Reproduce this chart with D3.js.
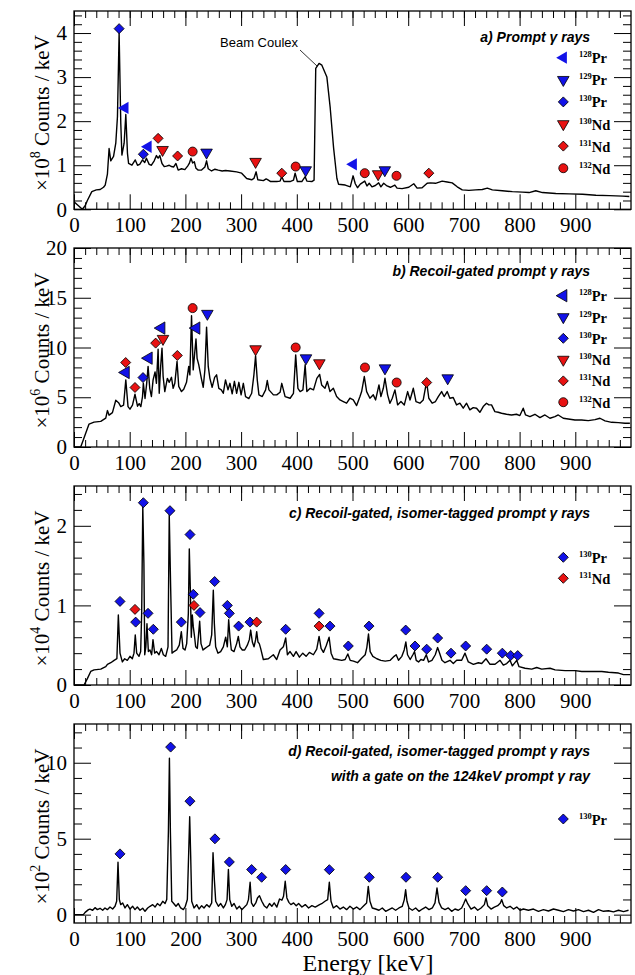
<!DOCTYPE html>
<html>
<head>
<meta charset="utf-8">
<script src="https://cdn.jsdelivr.net/npm/d3@7"></script>
<style>
  body { margin: 0; background: #fff; }
  svg { display: block; }
</style>
</head>
<body>
<script>
// ---- data ----
var energyTicks = [0, 100, 200, 300, 400, 500, 600, 700, 800, 900];

// a) prompt gamma rays, x10^8 counts/keV
var specA = [[0,0.17],[8,0.08],[15,0.0],[20,0.08],[24,0.2],[32,0.4],[40,0.44],[47,0.45],[53,0.5],[56,0.55],[60,0.8],[63,1.38],[66,1.1],[71,1.2],[75,1.5],[78,2.1],[81,4.0],[84,1.95],[86,1.23],[90,1.5],[93,2.15],[96,1.27],[98,1.04],[104,1.0],[110,1.12],[114,1.0],[118,1.02],[123,1.12],[127,1.06],[130,1.16],[135,1.02],[139,1.0],[144,1.1],[148,1.22],[151,1.16],[154,1.22],[158,1.04],[162,0.97],[166,0.98],[171,1.0],[175,0.97],[179,0.96],[183,1.04],[187,0.89],[193,0.92],[199,0.9],[204,0.98],[207,1.04],[210,1.16],[213,1.05],[216,1.08],[219,0.93],[223,0.89],[229,0.89],[235,0.96],[238,1.1],[241,0.92],[247,0.87],[253,0.91],[259,0.89],[266,0.87],[272,0.88],[280,0.87],[292,0.85],[301,0.82],[310,0.7],[319,0.67],[323,0.7],[327,0.85],[330,0.67],[340,0.65],[345,0.69],[349,0.66],[353,0.63],[364,0.63],[370,0.64],[373,0.74],[377,0.63],[388,0.63],[394,0.66],[397,0.82],[401,0.63],[409,0.63],[415,0.74],[418,0.64],[427,0.63],[431,0.66],[434,3.2],[440,3.31],[445,3.27],[454,3.0],[460,2.3],[466,1.4],[472,0.7],[475,0.57],[487,0.55],[496,0.51],[501,0.76],[505,0.58],[509,0.49],[514,0.57],[522,0.64],[526,0.53],[530,0.59],[535,0.51],[541,0.54],[547,0.6],[551,0.51],[556,0.59],[562,0.53],[568,0.5],[576,0.55],[580,0.48],[589,0.47],[601,0.5],[610,0.58],[616,0.48],[625,0.49],[634,0.59],[640,0.6],[649,0.59],[661,0.64],[670,0.62],[679,0.6],[688,0.51],[697,0.44],[709,0.43],[721,0.44],[733,0.45],[742,0.48],[751,0.44],[769,0.42],[787,0.4],[805,0.39],[817,0.38],[829,0.42],[841,0.38],[865,0.36],[889,0.35],[913,0.34],[937,0.32],[961,0.31],[985,0.3],[997,0.29]];

// b) recoil-gated prompt gamma rays, x10^6 counts/keV
var specB = [[0,0],[12,0],[16,0.6],[21,1.38],[27,2.3],[36,2.5],[48,2.58],[57,2.9],[60,3.66],[63,3.2],[69,3.45],[75,4.7],[80,4.45],[84,4.06],[89,4.2],[93,6.75],[97,4.06],[100.5,3.8],[105,4.2],[109.5,5.3],[114,4.1],[117,4.36],[120,4.06],[123,5.07],[124.5,6.4],[127.5,4.87],[130.5,6.4],[133,8.1],[136,5.9],[139,5.07],[142,6.75],[145.5,7.55],[148,6.4],[151,9.83],[153,5.4],[155.6,8.1],[158,9.94],[160,7.1],[163,5.57],[167.6,6.9],[171,6.5],[175,7.0],[178,5.9],[181,6.4],[185,8.6],[188,6.1],[193,5.57],[197,5.8],[202,6.5],[206,8.1],[208,7.25],[211,13.2],[214,7.75],[216.6,9.4],[219,10.85],[221,8.9],[224,8.25],[228.6,6.9],[232,6.0],[235,7.75],[238,12.05],[241,8.1],[244,6.9],[248,6.0],[252.5,7.0],[256,7.25],[260,5.9],[264.5,5.74],[268,5.4],[272,6.75],[276.5,5.74],[280,6.4],[284,5.34],[288,6.6],[292,5.4],[296,6.5],[300,5.24],[304,6.4],[308,5.07],[314,4.87],[319,5.4],[323,7.25],[326,9.16],[329,6.75],[332,5.24],[338,5.07],[344,5.74],[347,6.68],[350,5.74],[358,5.24],[364,5.24],[370,5.5],[373,6.4],[379,5.07],[388,4.9],[394,5.4],[398,9.26],[402,5.9],[406,5.57],[411,5.74],[415,8.26],[418,5.57],[424,5.9],[430,5.74],[436,6.9],[441,7.3],[444.6,6.24],[450.6,5.9],[454.8,6.58],[459.6,5.57],[465.6,5.9],[471.5,5.07],[477.5,4.73],[483.5,4.57],[489.4,4.4],[495.4,4.9],[501.4,4.73],[507.4,4.16],[513.4,5.07],[516.4,5.57],[521.2,7.08],[525.4,5.57],[531.3,4.9],[537.3,5.24],[541.5,4.73],[547.5,6.24],[551,5.07],[555.3,5.9],[558.3,6.91],[563,5.24],[567.2,4.4],[571.4,4.9],[576.2,5.74],[581,4.23],[587,4.57],[593,4.23],[599,5.57],[603.3,4.73],[609.2,5.9],[614,4.57],[621,4.4],[627,4.73],[633,6.58],[637,4.9],[643,4.4],[649,4.57],[654,5.07],[660,5.57],[664.5,5.07],[670,5.57],[674.8,4.9],[680.8,4.97],[686.8,4.23],[692.8,4.4],[698.8,3.9],[704.8,4.4],[710.7,3.73],[716.7,3.96],[722.7,3.9],[728.7,3.49],[734.7,4.06],[740.6,4.4],[744.8,4.23],[749.6,4.23],[755.6,3.56],[761.6,3.49],[767.6,3.39],[776.5,3.29],[785.5,3.22],[794.5,3.29],[800.5,3.16],[806.5,3.9],[810.7,3.22],[818.5,3.05],[827.5,3.29],[836.5,2.95],[845.5,3.22],[854.5,2.89],[863.4,3.05],[869.4,3.22],[878.4,2.89],[887.4,2.82],[899.4,2.72],[911.4,2.72],[923.3,2.65],[935.3,2.75],[944.3,2.89],[953.3,2.62],[965.3,2.48],[977.3,2.45],[989.2,2.38],[998,2.38]];

// c) recoil-gated, isomer-tagged, x10^4 counts/keV
var specC = [[0,0],[18,0],[24,0.08],[30,0.17],[36,0.19],[48,0.2],[57,0.23],[60,0.26],[66,0.28],[72,0.31],[77,0.33],[79.6,0.88],[82.6,0.4],[86.8,0.29],[91,0.33],[95.7,0.31],[100.5,0.36],[104.7,0.33],[107.7,0.4],[110,0.63],[112.5,0.4],[116.7,0.36],[119.7,0.42],[121.5,0.9],[123.5,2.24],[125.5,1.53],[127,0.38],[129,0.48],[131,0.77],[133.5,0.42],[136.4,0.44],[139.4,0.38],[141.8,0.57],[144.8,0.4],[148.4,0.42],[152.6,0.38],[156.8,0.46],[160.4,0.38],[164.6,0.36],[168.8,0.48],[171,2.14],[173.5,1.23],[176,0.4],[179.5,0.42],[184.3,0.44],[189,0.5],[192.7,0.67],[195.7,0.46],[199.3,0.44],[202.3,0.52],[205.3,0.9],[207,1.71],[208.9,1.19],[210.6,0.6],[212.4,0.88],[214.2,0.73],[216.6,0.6],[218.4,0.48],[221.4,0.46],[223.2,0.6],[225.6,0.8],[228,0.52],[231.6,0.44],[235.2,0.46],[239.4,0.48],[243.6,0.5],[247.2,0.63],[250.1,1.19],[252,0.77],[254.3,0.48],[258.5,0.4],[263.3,0.42],[268.1,0.48],[272.3,0.6],[275.3,0.48],[277.7,0.82],[280,0.6],[282.5,0.44],[287.3,0.42],[292,0.52],[295,0.61],[298,0.48],[302.2,0.44],[306.4,0.44],[311.2,0.5],[314.8,0.57],[317.2,0.69],[320.2,0.54],[323.2,0.48],[326.1,0.57],[328,0.67],[330.3,0.54],[332.7,0.52],[335.1,0.46],[339.9,0.32],[348.9,0.33],[357.9,0.38],[363.9,0.32],[369.9,0.44],[375.9,0.48],[380.1,0.59],[383.1,0.38],[387.9,0.42],[393.9,0.36],[398.7,0.42],[404.7,0.35],[410.7,0.4],[416.7,0.36],[422.6,0.41],[429.8,0.38],[435.8,0.45],[440,0.61],[443.6,0.46],[447.8,0.41],[452.6,0.49],[458,0.6],[461.6,0.4],[465.8,0.33],[473,0.32],[480.8,0.31],[486.8,0.32],[491.6,0.39],[495.8,0.31],[501.8,0.3],[509,0.28],[516.8,0.34],[522.8,0.38],[525.7,0.47],[528.7,0.64],[531.7,0.42],[536.5,0.36],[543.7,0.33],[550.9,0.31],[558.7,0.3],[567.7,0.31],[574.8,0.36],[578.4,0.38],[582.6,0.31],[588.6,0.36],[592.8,0.44],[595.8,0.54],[598.8,0.38],[603.6,0.32],[608.4,0.38],[611.4,0.42],[614.4,0.31],[618.6,0.29],[622.8,0.32],[627.6,0.31],[632.4,0.38],[636.6,0.29],[642.6,0.31],[648.6,0.38],[652.8,0.47],[656.4,0.4],[660.6,0.31],[666,0.28],[675,0.31],[681,0.27],[687,0.31],[696,0.31],[702,0.4],[708,0.29],[717,0.26],[726,0.28],[732,0.27],[739.7,0.33],[746.9,0.26],[755.9,0.26],[764.9,0.31],[770.8,0.25],[776.8,0.27],[782.8,0.31],[787,0.24],[794.8,0.31],[799,0.23],[809.8,0.21],[821.8,0.2],[830.7,0.22],[839.7,0.2],[854.7,0.21],[863.7,0.19],[881.6,0.18],[899.6,0.18],[911.6,0.17],[929.5,0.17],[947.5,0.17],[959.5,0.16],[977.5,0.15],[986.5,0.13],[998.5,0.13]];

// d) with a gate on the 124 keV line, x10^2 counts/keV
var specD = [[0,0],[16.8,0],[20,0.15],[26,0.33],[28.7,0.37],[33.5,0.29],[37.7,0.46],[41.9,0.33],[46.7,0.42],[51.5,0.29],[55.6,0.44],[59.8,0.33],[64.6,0.5],[69.4,0.37],[73.6,0.55],[76.6,0.88],[79,3.45],[81.4,1.0],[83.8,0.66],[87.4,0.77],[91.6,0.44],[95.8,0.66],[100.6,0.37],[105.4,0.55],[109.5,0.33],[113.7,0.5],[118.5,0.29],[123.3,0.42],[127.5,0.22],[132.3,0.44],[136.5,0.55],[141.3,0.66],[145.5,0.5],[149.7,0.73],[154.5,0.59],[159.3,0.88],[163.5,0.73],[166.5,1.0],[169.5,5.5],[171.3,10.3],[173.1,5.4],[175.5,0.88],[178.3,0.77],[183.1,0.55],[187.3,0.73],[191.5,0.44],[196.3,0.33],[199.9,0.55],[203.5,1.0],[205.9,4.07],[207.7,6.44],[209.5,3.85],[211.3,0.88],[215.5,0.44],[220.3,0.66],[224.5,0.37],[229.2,0.59],[233.4,0.44],[238.2,0.66],[243,0.5],[247.2,0.77],[249.6,4.07],[252,2.3],[254.4,0.88],[259.2,0.55],[263.4,0.73],[268.2,0.44],[271.8,0.66],[274.8,0.99],[277.2,2.97],[279.6,0.99],[283.2,0.55],[287.4,0.73],[292.2,0.37],[297,0.55],[301.2,0.33],[306,0.5],[310.2,0.66],[313.2,0.99],[316.2,2.13],[318.6,0.77],[322.2,0.55],[326.4,0.77],[329.4,1.1],[333,1.25],[337.2,0.88],[341.4,0.59],[346.2,0.44],[351,0.73],[355.2,0.55],[359.4,0.77],[364.2,0.5],[369,1.03],[373.2,0.95],[376.2,1.21],[379.2,2.2],[382.2,1.1],[385.8,0.81],[389.4,0.66],[394.2,0.77],[399,0.59],[403.2,0.73],[409.2,0.5],[415.2,0.66],[421.2,0.44],[427.1,0.59],[433.1,0.5],[440.9,0.66],[444.6,0.72],[450.6,0.88],[455.4,0.99],[458.4,2.13],[461.4,0.88],[465.6,0.44],[471.5,0.59],[477.5,0.37],[483.5,0.5],[489.4,0.33],[495.4,0.55],[501.4,0.37],[507.4,0.5],[513.4,0.33],[519.3,0.55],[525.3,0.77],[528.3,1.86],[531.3,0.88],[535.5,0.44],[541.5,0.37],[547.5,0.29],[553.5,0.44],[559.5,0.22],[565.4,0.33],[571.4,0.44],[577.4,0.29],[583.4,0.44],[589.4,0.55],[593,0.99],[595.4,1.64],[597.8,0.88],[601.4,0.44],[607.4,0.29],[613.4,0.44],[619.3,0.22],[625.3,0.37],[631.3,0.5],[637.3,0.33],[643.3,0.44],[648.1,0.77],[651.7,1.75],[655.3,0.81],[660.1,0.44],[666.1,0.33],[672,0.44],[678,0.22],[684,0.37],[690,0.29],[696,0.44],[699.6,0.72],[703.2,1.03],[706.8,0.72],[712.8,0.37],[718.8,0.5],[724.8,0.29],[730.8,0.44],[736.7,0.66],[739.7,1.1],[742.7,0.59],[748.7,0.37],[754.7,0.5],[760.7,0.59],[765.5,0.77],[767.9,0.99],[771.5,0.59],[776.9,0.44],[782.9,0.55],[788.9,0.37],[794.9,0.5],[800.9,0.29],[806.8,0.37],[815.8,0.29],[824.8,0.37],[833.8,0.22],[842.8,0.33],[851.8,0.24],[860.8,0.37],[869.7,0.29],[878.7,0.2],[887.7,0.33],[896.7,0.24],[905.7,0.33],[914.7,0.2],[923.7,0.29],[932.7,0.15],[941.7,0.33],[950.6,0.22],[959.6,0.26],[968.6,0.18],[977.6,0.29],[986.6,0.2],[995.6,0.29]];

// peak markers: [energy, height, nucleus]
var peaksA = [[81,4.1,'130Pr'],[91.5,2.3,'128Pr'],[124.5,1.25,'130Pr'],[133,1.42,'128Pr'],[151,1.61,'131Nd'],[159,1.35,'130Nd'],[186,1.21,'131Nd'],[213,1.31,'132Nd'],[238,1.29,'129Pr'],[326,1.08,'130Nd'],[373,0.82,'131Nd'],[398,0.97,'132Nd'],[416,0.89,'129Pr'],[501.5,1.02,'128Pr'],[522,0.82,'132Nd'],[546,0.8,'130Nd'],[558,0.89,'129Pr'],[579,0.76,'132Nd'],[637,0.82,'131Nd']];
var peaksB = [[92.8,8.49,'131Nd'],[92.8,7.49,'128Pr'],[109.5,5.98,'131Nd'],[123.9,6.98,'130Pr'],[134,8.93,'128Pr'],[146.6,10.44,'131Nd'],[156.8,11.95,'128Pr'],[159.8,10.88,'130Nd'],[185.5,9.2,'131Nd'],[213,13.96,'132Nd'],[219.6,11.95,'128Pr'],[239.4,13.4,'129Pr'],[326,9.84,'130Nd'],[398,10.0,'132Nd'],[416.5,8.93,'129Pr'],[440.5,8.43,'130Nd'],[522.4,7.99,'132Nd'],[558.3,7.92,'129Pr'],[579.3,6.48,'132Nd'],[633.2,6.48,'131Nd'],[670.9,6.92,'129Pr']];
var peaksC = [[82.6,1.05,'130Pr'],[109.5,0.95,'131Nd'],[110.7,0.79,'130Pr'],[124.5,2.29,'130Pr'],[132.9,0.9,'130Pr'],[142.4,0.7,'130Pr'],[172.3,2.19,'130Pr'],[192.7,0.79,'130Pr'],[208.3,1.89,'130Pr'],[214.2,1.14,'130Pr'],[215.4,1.0,'131Nd'],[226.2,0.91,'130Pr'],[252.5,1.3,'130Pr'],[275.3,1.0,'130Pr'],[278.9,0.9,'130Pr'],[295.6,0.74,'130Pr'],[316,0.79,'130Pr'],[328,0.79,'131Nd'],[380,0.7,'130Pr'],[440,0.9,'130Pr'],[440,0.74,'131Nd'],[459.6,0.74,'130Pr'],[492.5,0.49,'130Pr'],[529.6,0.74,'130Pr'],[595.5,0.69,'130Pr'],[612.2,0.49,'130Pr'],[633.2,0.45,'130Pr'],[652.9,0.59,'130Pr'],[676.8,0.4,'130Pr'],[703.2,0.49,'130Pr'],[740.9,0.45,'130Pr'],[769,0.4,'130Pr'],[784,0.37,'130Pr'],[796.6,0.37,'130Pr']];
var peaksD = [[82.6,4.0,'130Pr'],[173.5,11.03,'130Pr'],[208.2,7.47,'130Pr'],[253,4.99,'130Pr'],[278.9,3.47,'130Pr'],[318.9,2.97,'130Pr'],[336.9,2.46,'130Pr'],[380,2.97,'130Pr'],[458.4,2.96,'130Pr'],[530.2,2.46,'130Pr'],[596,2.46,'130Pr'],[653,2.46,'130Pr'],[703.2,1.58,'130Pr'],[740.9,1.58,'130Pr'],[769,1.49,'130Pr']];

var legendA = ['128Pr', '129Pr', '130Pr', '130Nd', '131Nd', '132Nd'];
var legendB = ['128Pr', '129Pr', '130Pr', '130Nd', '131Nd', '132Nd'];
var legendC = ['130Pr', '131Nd'];
var legendD = ['130Pr'];

var titleA = ['a) Prompt \u03b3 rays'];
var titleB = ['b) Recoil-gated prompt \u03b3 rays'];
var titleC = ['c) Recoil-gated, isomer-tagged prompt \u03b3 rays'];
var titleD = ['d) Recoil-gated, isomer-tagged prompt \u03b3 rays', 'with a gate on the 124keV prompt \u03b3 ray'];

var exponents = ['8', '6', '4', '2'];

// ---- layout ----
var W = 635, H = 975;
var blue = '#1212e8', red = '#e81212';
var serif = '"Liberation Serif", "Times New Roman", serif';
var sans = '"Liberation Sans", Arial, sans-serif';

var panels = [
  {spec: specA, peaks: peaksA, legend: legendA, title: titleA, top: 11, bottom: 209.3, yDomain: [0, 4.5], major: [0, 1, 2, 3, 4], minorStep: 0.2, titleY: [42], legY: 57.7, legStep: 22.1, plainLeft: true},
  {spec: specB, peaks: peaksB, legend: legendB, title: titleB, top: 248, bottom: 447, yDomain: [0, 20], major: [0, 5, 10, 15, 20], minorStep: 1, titleY: [276], legY: 295.7, legStep: 21.3},
  {spec: specC, peaks: peaksC, legend: legendC, title: titleC, top: 486, bottom: 685, yDomain: [0, 2.5], major: [0, 1, 2], minorStep: 0.2, titleY: [518], legY: 557.3, legStep: 21},
  {spec: specD, peaks: peaksD, legend: legendD, title: titleD, top: 724, bottom: 923, yDomain: [-0.55, 12.55], major: [0, 5, 10], minorStep: 1, titleY: [756, 781], legY: 819, legStep: 21}
];

var isoStyle = {
  '128Pr': {shape: 'left', fill: blue},
  '129Pr': {shape: 'down', fill: blue},
  '130Pr': {shape: 'diamond', fill: blue},
  '130Nd': {shape: 'down', fill: red},
  '131Nd': {shape: 'diamond', fill: red},
  '132Nd': {shape: 'circle', fill: red}
};

function markerPath(shape) {
  if (shape === 'circle') return d3.symbol().type(d3.symbolCircle).size(64)();
  if (shape === 'diamond') return d3.symbol().type(d3.symbolSquare).size(50)();
  return d3.symbol().type(d3.symbolTriangle).size(shape === 'left' ? 66 : 58)();
}
function markerRot(shape) {
  return shape === 'diamond' ? 45 : shape === 'down' ? 180 : shape === 'left' ? -90 : 0;
}
function drawMarker(g, iso, px, py, plainLeft) {
  var st = isoStyle[iso];
  g.append('path')
    .attr('d', markerPath(st.shape))
    .attr('transform', 'translate(' + px + ',' + py + ') rotate(' + markerRot(st.shape) + ')')
    .attr('fill', st.fill)
    .attr('stroke', (plainLeft && st.shape === 'left') ? 'none' : '#000')
    .attr('stroke-width', 0.8);
}

var svg = d3.select('body').append('svg').attr('width', W).attr('height', H);
var x = d3.scaleLinear().domain([0, 1000]).range([74, 631]);
var xMinor = d3.range(20, 1000, 20).filter(function (v) { return v % 100 !== 0; });

function styleAxis(g) {
  g.select('.domain').remove();
  g.selectAll('line').attr('stroke', '#000').attr('stroke-width', 1);
  g.attr('font-family', serif).attr('font-size', 21);
}

panels.forEach(function (p, i) {
  var y = d3.scaleLinear().domain(p.yDomain).range([p.bottom, p.top]);
  var g = svg.append('g');

  svg.append('clipPath').attr('id', 'clip' + i)
    .append('rect').attr('x', 74).attr('y', p.top).attr('width', 557).attr('height', p.bottom - p.top);

  // spectrum
  g.append('path')
    .datum(p.spec)
    .attr('clip-path', 'url(#clip' + i + ')')
    .attr('fill', 'none')
    .attr('stroke', '#000')
    .attr('stroke-width', 1.4)
    .attr('stroke-linejoin', 'round')
    .attr('d', d3.line().x(function (d) { return x(d[0]); }).y(function (d) { return y(d[1]); }));

  // peak markers
  p.peaks.forEach(function (d) {
    drawMarker(g, d[2], x(d[0]), y(d[1]), p.plainLeft);
  });

  // y minor ticks
  var yMinor = d3.range(Math.ceil(p.yDomain[0] / p.minorStep) * p.minorStep, p.yDomain[1] + 1e-6, p.minorStep)
    .filter(function (v) { return p.major.every(function (m) { return Math.abs(m - v) > 1e-6; }); });

  // axes, ticks pointing inward on all four sides
  g.append('g').attr('transform', 'translate(0,' + p.bottom + ')')
    .call(d3.axisBottom(x).tickValues(energyTicks).tickSize(-15).tickPadding(8)).call(styleAxis);
  g.append('g').attr('transform', 'translate(0,' + p.bottom + ')')
    .call(d3.axisBottom(x).tickValues(xMinor).tickSize(-7).tickFormat('')).call(styleAxis);
  g.append('g').attr('transform', 'translate(0,' + p.top + ')')
    .call(d3.axisTop(x).tickValues(energyTicks.concat(xMinor)).tickSize(-7).tickFormat('')).call(styleAxis);
  g.append('g').attr('transform', 'translate(0,' + p.top + ')')
    .call(d3.axisTop(x).tickValues(energyTicks).tickSize(-15).tickFormat('')).call(styleAxis);

  g.append('g').attr('transform', 'translate(74,0)')
    .call(d3.axisLeft(y).tickValues(p.major).tickSize(-17).tickPadding(7).tickFormat(d3.format('d'))).call(styleAxis);
  g.append('g').attr('transform', 'translate(74,0)')
    .call(d3.axisLeft(y).tickValues(yMinor).tickSize(-8).tickFormat('')).call(styleAxis);
  g.append('g').attr('transform', 'translate(631,0)')
    .call(d3.axisRight(y).tickValues(p.major).tickSize(-17).tickFormat('')).call(styleAxis);
  g.append('g').attr('transform', 'translate(631,0)')
    .call(d3.axisRight(y).tickValues(yMinor).tickSize(-8).tickFormat('')).call(styleAxis);

  // frame
  g.append('rect')
    .attr('x', 74).attr('y', p.top).attr('width', 557).attr('height', p.bottom - p.top)
    .attr('fill', 'none').attr('stroke', '#000').attr('stroke-width', 1.3);

  // y axis title
  var yt = g.append('text')
    .attr('transform', 'translate(49,' + ((p.top + p.bottom) / 2 + 3) + ') rotate(-90)')
    .attr('text-anchor', 'middle')
    .attr('font-family', serif)
    .attr('font-size', 21);
  yt.append('tspan').text('\u00d710');
  yt.append('tspan').attr('font-size', 14).attr('dy', -9).text(exponents[i]);
  yt.append('tspan').attr('dy', 9).text(' Counts / keV');

  // panel title
  p.title.forEach(function (t, k) {
    g.append('text')
      .attr('x', 590).attr('y', p.titleY[k])
      .attr('text-anchor', 'end')
      .attr('font-family', sans)
      .attr('font-weight', 'bold')
      .attr('font-style', 'italic')
      .attr('font-size', 14)
      .text(t);
  });

  // legend
  p.legend.forEach(function (iso, k) {
    var ly = p.legY + k * p.legStep;
    drawMarker(g, iso, 563.3, ly, p.plainLeft);
    var m = iso.match(/^(\d+)(\D+)$/);
    var lt = g.append('text')
      .attr('x', 579).attr('y', ly + 5.5)
      .attr('font-family', serif)
      .attr('font-weight', 'bold');
    lt.append('tspan').attr('font-size', 8.5).attr('dy', -6).text(m[1]);
    lt.append('tspan').attr('font-size', 14.5).attr('dy', 6).text(m[2]);
  });
});

// beam Coulomb excitation label in panel a
svg.append('text')
  .attr('x', 220).attr('y', 47)
  .attr('font-family', sans)
  .attr('font-size', 13)
  .text('Beam Coulex');
svg.append('line')
  .attr('x1', 300).attr('y1', 50).attr('x2', 317).attr('y2', 66)
  .attr('stroke', '#000').attr('stroke-width', 0.8);

// energy axis title
svg.append('text')
  .attr('x', 368).attr('y', 971)
  .attr('text-anchor', 'middle')
  .attr('font-family', serif)
  .attr('font-size', 24)
  .text('Energy [keV]');
</script>
</body>
</html>
